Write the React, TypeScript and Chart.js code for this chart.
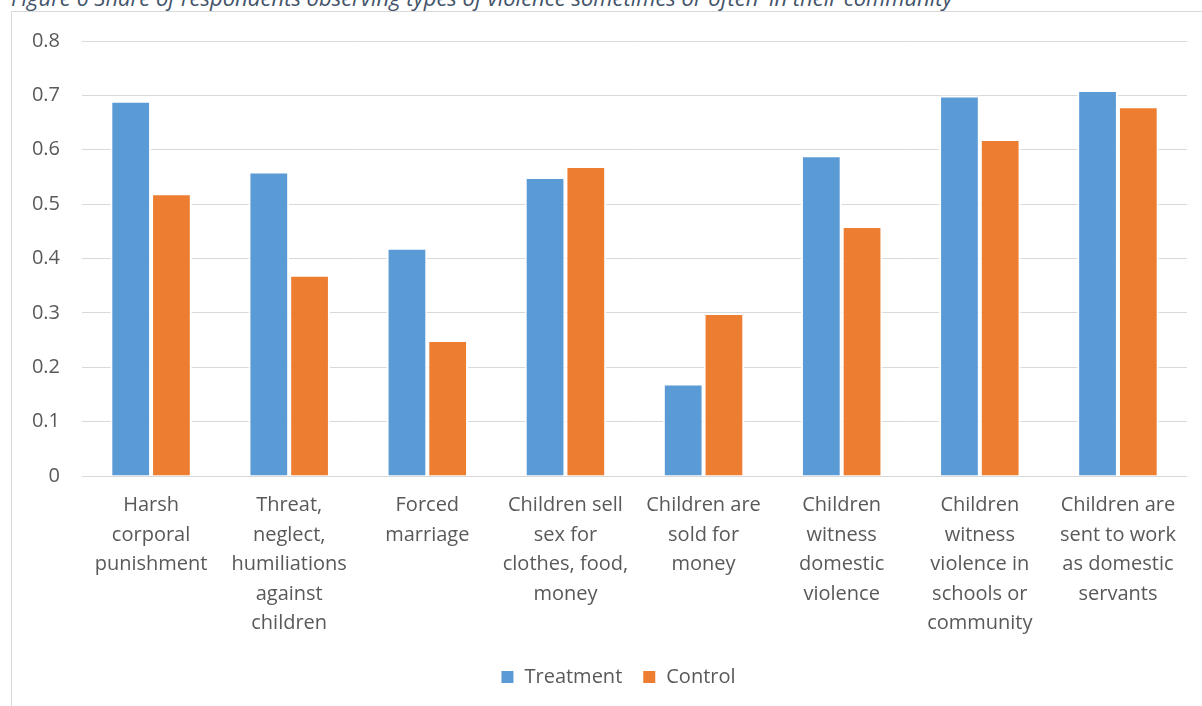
import React, { useEffect, useRef } from "react";
import { Chart, registerables } from "chart.js";

Chart.register(...registerables);

const titleText =
  "Figure 6 Share of respondents observing types of violence sometimes or often' in their community";

const categories: string[][] = [
  ["Harsh", "corporal", "punishment"],
  ["Threat,", "neglect,", "humiliations", "against", "children"],
  ["Forced", "marriage"],
  ["Children sell", "sex for", "clothes, food,", "money"],
  ["Children are", "sold for", "money"],
  ["Children", "witness", "domestic", "violence"],
  ["Children", "witness", "violence in", "schools or", "community"],
  ["Children are", "sent to work", "as domestic", "servants"],
];

const seriesNames = ["Treatment", "Control"];
const treatment = [0.69, 0.56, 0.42, 0.55, 0.17, 0.59, 0.7, 0.71];
const control = [0.52, 0.37, 0.25, 0.57, 0.3, 0.46, 0.62, 0.68];
const yMin = 0;
const yMax = 0.8;
const yStep = 0.1;

const FONT = "'Open Sans', 'Noto Sans', sans-serif";
const TEXT = "#595959";

export default function App() {
  const ref = useRef<HTMLCanvasElement | null>(null);

  useEffect(() => {
    if (!ref.current) return;
    const chart = new Chart(ref.current, {
      type: "bar",
      data: {
        labels: categories,
        datasets: [
          {
            label: seriesNames[0],
            data: treatment,
            backgroundColor: "#5B9BD5",
            borderColor: "#ffffff",
            borderWidth: 2,
          },
          {
            label: seriesNames[1],
            data: control,
            backgroundColor: "#ED7D31",
            borderColor: "#ffffff",
            borderWidth: 2,
          },
        ],
      },
      options: {
        responsive: false,
        animation: false,
        devicePixelRatio: 1,
        datasets: { bar: { categoryPercentage: 0.59, barPercentage: 1 } },
        layout: { padding: { top: 29, bottom: 9, left: 0, right: 0 } },
        plugins: {
          title: { display: false },
          tooltip: { enabled: false },
          legend: {
            position: "bottom",
            labels: {
              boxWidth: 14,
              boxHeight: 14,
              padding: 20,
              color: TEXT,
              font: { family: FONT, size: 20 },
            },
          },
        },
        scales: {
          x: {
            grid: { display: false, drawTicks: false },
            border: { display: false },
            ticks: {
              color: TEXT,
              font: { family: FONT, size: 20, lineHeight: 1.475 },
              padding: 15,
              maxRotation: 0,
              minRotation: 0,
              autoSkip: false,
            },
            afterFit: (s: any) => {
              s.height = 171;
            },
          },
          y: {
            min: yMin,
            max: yMax,
            grid: { color: "#d9d9d9", lineWidth: 1, drawTicks: false },
            border: { display: false },
            ticks: {
              stepSize: yStep,
              color: TEXT,
              padding: 22,
              font: { family: FONT, size: 20 },
              callback: (v: any) => {
                const n = Math.round(Number(v) * 10) / 10;
                return n === 0 ? "0" : n.toFixed(1);
              },
            },
            afterFit: (s: any) => {
              s.width = 70;
              s.paddingTop = 0;
              s.paddingBottom = 0;
            },
          },
          yRight: {
            position: "right",
            display: true,
            grid: { display: false, drawTicks: false },
            border: { display: false },
            ticks: { display: false },
            afterFit: (s: any) => {
              s.width = 37;
              s.paddingTop = 0;
              s.paddingBottom = 0;
            },
          },
        },
      } as any,
    });
    return () => chart.destroy();
  }, []);

  return (
    <div
      style={{
        position: "fixed",
        inset: 0,
        overflow: "hidden",
        background: "#ffffff",
      }}
    >
      <div
        style={{
          position: "absolute",
          left: 11,
          top: -14,
          whiteSpace: "nowrap",
          fontFamily: FONT,
          fontStyle: "italic",
          fontSize: 22,
          lineHeight: "22px",
          color: "#44546A",
        }}
      >
        {titleText}
      </div>
      <div
        style={{
          position: "absolute",
          left: 11,
          top: 11,
          width: 1212,
          height: 700,
          border: "1px solid #d9d9d9",
          background: "#ffffff",
        }}
      >
        <canvas ref={ref} width={1212} height={694} style={{ display: "block" }} />
      </div>
    </div>
  );
}
